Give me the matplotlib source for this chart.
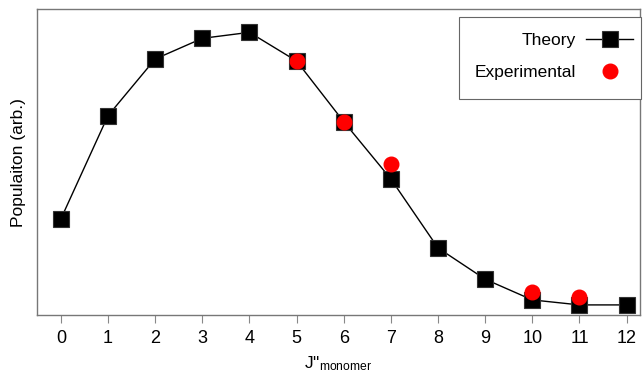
import matplotlib
matplotlib.use("Agg")
import matplotlib.pyplot as plt
from matplotlib.patches import Rectangle

plt.rcParams['font.family'] = ['Liberation Sans', 'DejaVu Sans']
plt.rcParams['mathtext.fontset'] = 'custom'
plt.rcParams['mathtext.rm'] = 'Liberation Sans'
plt.rcParams['mathtext.default'] = 'regular'

j_theory = [0, 1, 2, 3, 4, 5, 6, 7, 8, 9, 10, 11, 12]
pop_theory = [96, 199.3, 256, 276.7, 282.7, 254, 193.3, 136, 67, 35.7, 15, 10, 10]
j_exp = [5, 6, 7, 10, 11]
pop_exp = [254.3, 192.7, 150.7, 22.7, 18.3]
xtick_labels = [str(i) for i in range(13)]

W, H = 643, 374
fig = plt.figure(figsize=(6.43, 3.74), dpi=100)
ax = fig.add_axes([0.058, 0.158, 0.937, 0.817])

ax.plot(j_theory, pop_theory, color='black', lw=1.0, marker='s', ms=11,
        mfc='black', mec='#333333', mew=0.8, label='Theory', zorder=2)
ax.plot(j_exp, pop_exp, ls='none', marker='o', ms=10.5, mfc='#ff0000',
        mec='#ff0000', label='Experimental', zorder=3)

ax.set_xlim(-0.5, 12.28)
ax.set_ylim(0, 305.7)
ax.set_xticks(range(13))
ax.set_xticklabels(xtick_labels, fontsize=13)
ax.set_yticks([])
ax.tick_params(axis='x', direction='out', length=6, width=0.8, color='#888888', pad=5)
for s in ax.spines.values():
    s.set_color('#777777')
    s.set_linewidth(1.0)

ax.set_ylabel('Populaiton (arb.)', fontsize=12.5, labelpad=8)
ax.set_xlabel('J"$_{monomer}$', fontsize=12.5, labelpad=5)

# legend box
box = Rectangle((459 / W, 1 - 99 / H), (641 - 459) / W, (99 - 17) / H,
                transform=fig.transFigure, facecolor='white', edgecolor='#666666',
                lw=0.8, zorder=4)
fig.add_artist(box)

leg = fig.legend(*ax.get_legend_handles_labels(), loc='upper right',
                 markerfirst=False, fontsize=12.5, frameon=False,
                 borderpad=0, labelspacing=0.95, handlelength=2.7,
                 handletextpad=0.6, borderaxespad=0,
                 bbox_to_anchor=(633 / W, 1 - 33 / H),
                 bbox_transform=fig.transFigure)
leg.set_zorder(5)

fig.savefig('out.png', dpi=100)
